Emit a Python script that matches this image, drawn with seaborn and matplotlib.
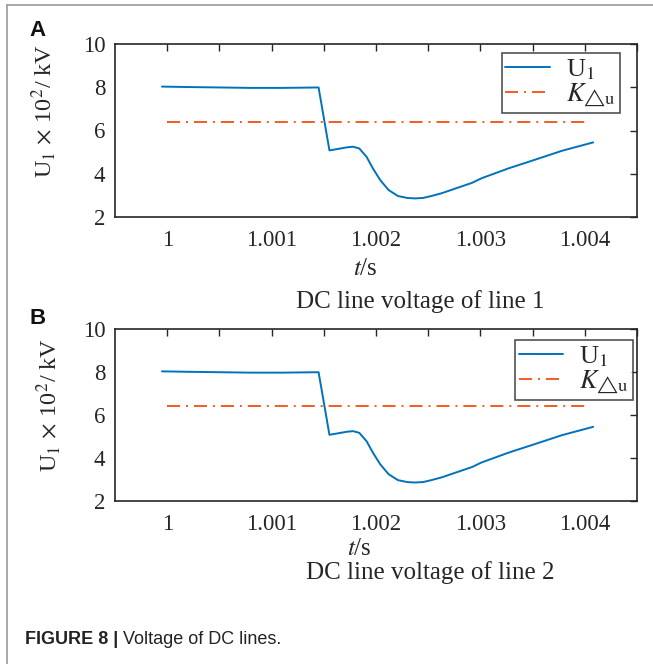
import numpy as np
import pandas as pd
import matplotlib
matplotlib.use('Agg')
import matplotlib.pyplot as plt
import seaborn as sns
from matplotlib.lines import Line2D

# data
t_u1 = [0.99995, 1.0002, 1.0005, 1.0008, 1.0011, 1.00145, 1.001554, 1.00165, 1.00172,
        1.00178, 1.00184, 1.00191, 1.00197, 1.00204, 1.00212, 1.00221, 1.0023, 1.00237,
        1.00245, 1.00253, 1.00263, 1.00272, 1.00292, 1.00301, 1.00327, 1.00353, 1.00378,
        1.00408]
u1_line1 = [8.03, 8.01, 7.99, 7.97, 7.97, 7.99, 5.08, 5.16, 5.22,
            5.25, 5.17, 4.78, 4.25, 3.71, 3.25, 2.97, 2.88, 2.86,
            2.88, 2.97, 3.10, 3.25, 3.58, 3.79, 4.25, 4.66, 5.06,
            5.45]
u1_line2 = list(u1_line1)
t_k = [1.0, 1.004]
k_du = [6.4, 6.4]

major_ticks = [1.0, 1.001, 1.002, 1.003, 1.004]
tick_labels = ['1', '1.001', '1.002', '1.003', '1.004']
minor_ticks = [1.0005, 1.0015, 1.0025, 1.0035, 1.0045]
y_ticks = [2, 4, 6, 8, 10]
subtitles = ['DC line voltage of line 1', 'DC line voltage of line 2']
panel_letters = ['A', 'B']

sns.set_style('white')
plt.rcParams['font.family'] = ['Liberation Serif', 'DejaVu Serif']
plt.rcParams['mathtext.fontset'] = 'stix'
plt.rcParams['lines.scale_dashes'] = False

blue = '#0072BD'
orange = '#F75A1E'
ink = '#262626'

fig = plt.figure(figsize=(6.53, 6.64), dpi=100)
W, H = 653, 664

def fx(px):
    return px / W

def fy(py):
    return 1 - py / H

# axes boxes (left, top, right, bottom) in pixels
boxes = [(115, 44, 637, 217), (115, 329, 637, 501)]
legend_anchor = [(0.967, 0.948), (0.992, 0.936)]
xlabel_pos = [(0.479, -0.237), (0.469, -0.215)]
ylabel_pos = [(-0.11, 0.613), (-0.10, 0.558)]
subtitle_pos = [(420, 302), (430, 573)]
letter_pos = [(38, 31), (38, 319)]

for i, (l, t, r, b) in enumerate(boxes):
    ax = fig.add_axes([fx(l), fy(b), fx(r) - fx(l), fy(t) - fy(b)])
    df = pd.DataFrame({'t': t_u1, 'U': [u1_line1, u1_line2][i]})
    sns.lineplot(data=df, x='t', y='U', ax=ax, color=blue, lw=1.4,
                 sort=False, estimator=None, label=r'U$_1$')
    sns.lineplot(x=t_k, y=k_du, ax=ax, color=orange, lw=1.4,
                 linestyle=(0, (9.4, 4.3, 1.4, 4.3)),
                 label=r'$K_{△\mathrm{u}}$')
    ax.set_xlim(0.9995, 1.0045)
    ax.set_ylim(2, 10)
    ax.set_xticks(major_ticks)
    ax.set_xticklabels(tick_labels)
    ax.set_xticks(minor_ticks, minor=True)
    ax.set_yticks(y_ticks)
    ax.set_yticklabels([str(v) for v in y_ticks])
    ax.tick_params(which='both', direction='in', top=True, right=True,
                   length=5, width=1.0, color=ink, labelsize=16.5, labelcolor=ink)
    ax.tick_params(axis='x', pad=9)
    ax.tick_params(axis='y', pad=7)
    for s in ax.spines.values():
        s.set_color(ink)
        s.set_linewidth(1.2)

    ax.set_xlabel(r'$t$/s', fontsize=18, color=ink)
    ax.xaxis.set_label_coords(*xlabel_pos[i])
    ax.set_ylabel(r'U$_1\,\times\,$10$^2$/ kV', fontsize=17.5, color=ink)
    ax.yaxis.set_label_coords(*ylabel_pos[i])

    leg = ax.legend(loc='upper right', bbox_to_anchor=legend_anchor[i],
                    borderaxespad=0, frameon=True, fancybox=False,
                    edgecolor=ink, fontsize=19, handlelength=1.7,
                    handletextpad=0.6, labelspacing=0.0, borderpad=0.15)
    leg.get_frame().set_linewidth(1.2)

    fig.text(fx(subtitle_pos[i][0]), fy(subtitle_pos[i][1]), subtitles[i],
             ha='center', va='center', fontsize=18, color=ink)
    fig.text(fx(letter_pos[i][0]), fy(letter_pos[i][1]), panel_letters[i],
             ha='center', va='center', fontsize=16, fontweight='bold',
             family='Liberation Sans', color='#111111')

# caption
cap = fig.text(fx(25), fy(640), 'FIGURE 8 |', ha='left', va='center',
               fontsize=13, fontweight='bold', family='Liberation Sans', color='#222222')
fig.add_artist(matplotlib.text.Annotation(' Voltage of DC lines.', xy=(1, 0.5), xycoords=cap,
                                          va='center', ha='left', fontsize=13,
                                          family='Liberation Sans', color='#222222'))

# page frame
fig.add_artist(Line2D([fx(7), fx(7)], [0, fy(5)], transform=fig.transFigure,
                      color='#9a9a9a', lw=1.2))
fig.add_artist(Line2D([fx(7), 1], [fy(5), fy(5)], transform=fig.transFigure,
                      color='#9a9a9a', lw=1.2))

fig.savefig('out.png', dpi=100)
